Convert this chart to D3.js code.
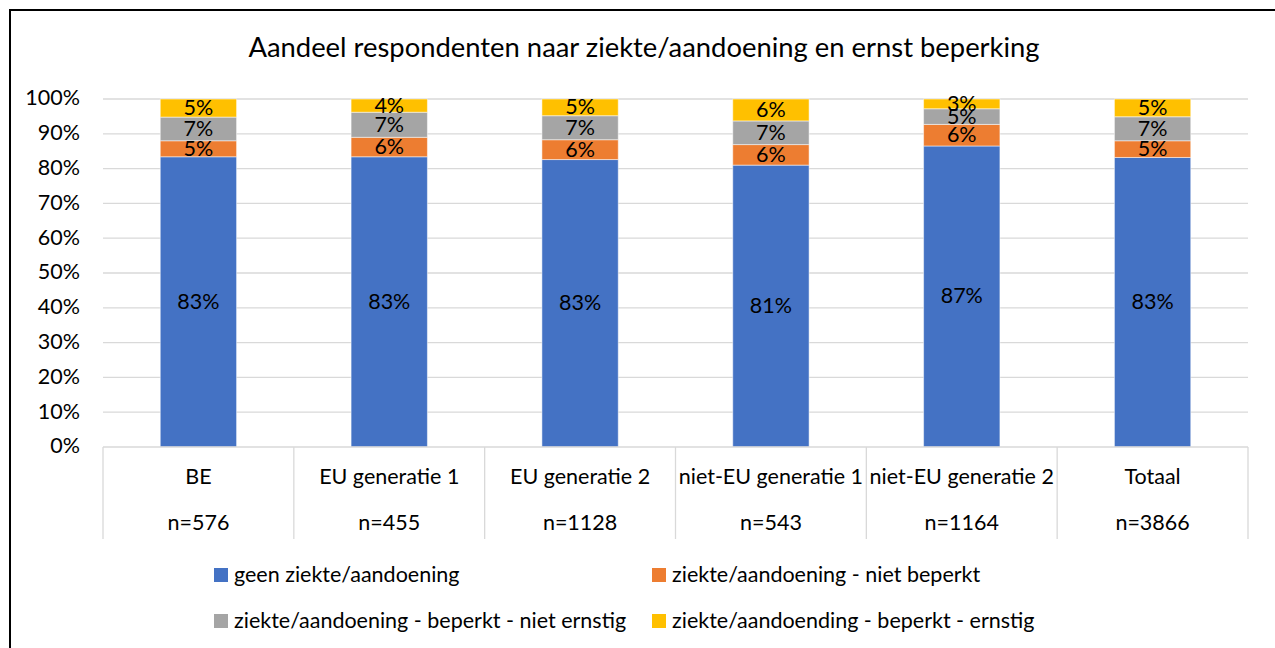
<!DOCTYPE html>
<html>
<head>
<meta charset="utf-8">
<script src="https://cdn.jsdelivr.net/npm/d3@7"></script>
<style>
  body { margin: 0; background: #fff; }
  text { font-family: Lato, "Open Sans", sans-serif; fill: #000; }
</style>
</head>
<body>
<script>
const categories = ["BE", "EU generatie 1", "EU generatie 2", "niet-EU generatie 1", "niet-EU generatie 2", "Totaal"];
const counts = ["n=576", "n=455", "n=1128", "n=543", "n=1164", "n=3866"];
const seriesNames = [
  "geen ziekte/aandoening",
  "ziekte/aandoening - niet beperkt",
  "ziekte/aandoening - beperkt - niet ernstig",
  "ziekte/aandoending - beperkt - ernstig"
];
const colors = ["#4472c4", "#ed7d31", "#a5a5a5", "#ffc000"];
// percentages per category
const geen = [83.4, 83.4, 82.6, 81.0, 86.5, 83.2];
const nietBeperkt = [4.6, 5.6, 5.7, 5.9, 6.2, 4.8];
const nietErnstig = [6.8, 7.2, 6.9, 6.8, 4.5, 6.9];
const ernstig = [5.2, 3.8, 4.8, 6.3, 2.8, 5.1];
const yTicks = [0, 10, 20, 30, 40, 50, 60, 70, 80, 90, 100];

(function() {
  const W = 1275, H = 648;
  const plot = {left: 103, right: 1248, top: 99, bottom: 447};
  const fs = "21.5px";
  const svg = d3.select("body").append("svg").attr("width", W).attr("height", H);

  // frame (only top and left visible)
  svg.append("path")
    .attr("d", `M10,${H} L10,10 L${W},10`)
    .attr("fill", "none").attr("stroke", "#000").attr("stroke-width", 2);

  svg.append("text")
    .attr("x", 644).attr("y", 50)
    .attr("text-anchor", "middle").attr("dominant-baseline", "middle")
    .style("font-size", "27.4px")
    .text("Aandeel respondenten naar ziekte/aandoening en ernst beperking");

  const x = d3.scaleBand().domain(categories).range([plot.left, plot.right])
    .paddingInner(0.6).paddingOuter(0.3);
  const y = d3.scaleLinear().domain([0, 100]).range([plot.bottom, plot.top]);

  // gridlines
  svg.append("g").selectAll("line")
    .data(yTicks.slice(1))
    .join("line")
    .attr("x1", plot.left).attr("x2", plot.right)
    .attr("y1", d => y(d)).attr("y2", d => y(d))
    .attr("stroke", "#d9d9d9").attr("stroke-width", 1.3);

  // y tick labels
  svg.append("g").selectAll("text")
    .data(yTicks)
    .join("text")
    .attr("x", 80).attr("y", d => y(d) + 1)
    .attr("text-anchor", "end").attr("dominant-baseline", "middle")
    .style("font-size", fs)
    .text(d => d + "%");

  // data table + stack
  const table = categories.map((c, i) => ({
    cat: c, s0: geen[i], s1: nietBeperkt[i], s2: nietErnstig[i], s3: ernstig[i]
  }));
  const stacked = d3.stack().keys(["s0", "s1", "s2", "s3"])(table);

  const layers = svg.append("g").selectAll("g")
    .data(stacked)
    .join("g")
    .attr("fill", (d, i) => colors[i]);

  layers.selectAll("rect")
    .data(d => d)
    .join("rect")
    .attr("x", d => x(d.data.cat))
    .attr("width", x.bandwidth())
    .attr("y", d => y(d[1]))
    .attr("height", d => y(d[0]) - y(d[1]))
    .attr("stroke", "#ffffff").attr("stroke-opacity", 0.5).attr("stroke-width", 1);

  // data labels
  svg.append("g").selectAll("g")
    .data(stacked)
    .join("g")
    .selectAll("text")
    .data(d => d)
    .join("text")
    .attr("x", d => x(d.data.cat) + x.bandwidth() / 2)
    .attr("y", d => (y(d[0]) + y(d[1])) / 2 + 1.5)
    .attr("text-anchor", "middle").attr("dominant-baseline", "middle")
    .style("font-size", fs)
    .text(d => Math.round(d[1] - d[0]) + "%");

  // category axis
  const step = x.step();
  const axisG = svg.append("g");
  axisG.append("line")
    .attr("x1", plot.left).attr("x2", plot.right)
    .attr("y1", plot.bottom).attr("y2", plot.bottom)
    .attr("stroke", "#d9d9d9").attr("stroke-width", 1.3);
  axisG.selectAll("line.div")
    .data(d3.range(categories.length + 1))
    .join("line").attr("class", "div")
    .attr("x1", i => plot.left + i * step).attr("x2", i => plot.left + i * step)
    .attr("y1", plot.bottom).attr("y2", 539)
    .attr("stroke", "#d9d9d9").attr("stroke-width", 1.3);
  axisG.selectAll("text.cat")
    .data(categories)
    .join("text").attr("class", "cat")
    .attr("x", d => x(d) + x.bandwidth() / 2).attr("y", 479)
    .attr("text-anchor", "middle").attr("dominant-baseline", "middle")
    .style("font-size", fs)
    .text(d => d);
  axisG.selectAll("text.n")
    .data(counts)
    .join("text").attr("class", "n")
    .attr("x", (d, i) => x(categories[i]) + x.bandwidth() / 2).attr("y", 525)
    .attr("text-anchor", "middle").attr("dominant-baseline", "middle")
    .style("font-size", fs)
    .text(d => d);

  // legend
  const legendPos = [[214, 575], [652, 575], [214, 621], [652, 621]];
  const legend = svg.append("g").selectAll("g")
    .data(seriesNames)
    .join("g")
    .attr("transform", (d, i) => `translate(${legendPos[i][0]},${legendPos[i][1]})`);
  legend.append("rect")
    .attr("x", 0).attr("y", -7).attr("width", 14).attr("height", 14)
    .attr("fill", (d, i) => colors[i]);
  legend.append("text")
    .attr("x", 20).attr("y", 1.5)
    .attr("dominant-baseline", "middle")
    .style("font-size", fs)
    .text(d => d);
})();
</script>
</body>
</html>
